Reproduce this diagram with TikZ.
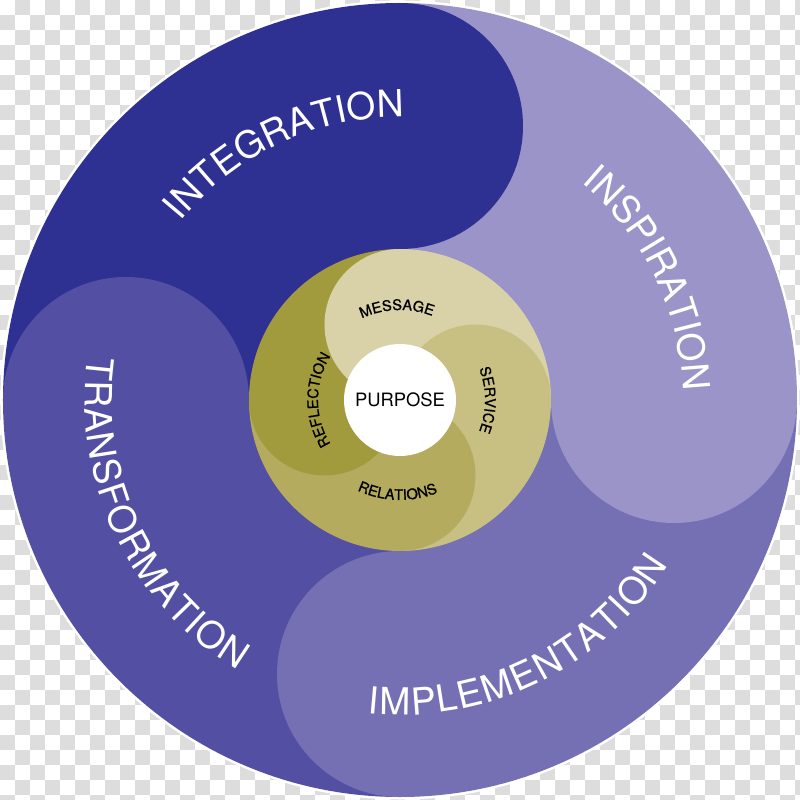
\documentclass[tikz,border=0pt]{standalone}
\usepackage{fontspec}
\setmainfont{TeX Gyre Heros}
\newfontfamily\innerfam{TeX Gyre Heros}[FakeBold=0.8]
\usetikzlibrary{decorations.text}
\definecolor{integ}{RGB}{46,48,146}
\definecolor{transf}{RGB}{83,80,163}
\definecolor{impl}{RGB}{116,112,179}
\definecolor{inspi}{RGB}{154,148,200}
\definecolor{msg}{RGB}{217,210,168}
\definecolor{serv}{RGB}{200,191,130}
\definecolor{rela}{RGB}{180,171,94}
\definecolor{refl}{RGB}{162,155,62}
\definecolor{checker}{RGB}{221,221,221}
\newcommand\outerfont{\fontsize{28}{30}\selectfont}
\newcommand\innerfont{\innerfam\fontsize{11}{12}\selectfont}
\tikzset{
  labelpath/.style={decorate}
}
\begin{document}
\begin{tikzpicture}[x=0.75pt,y=0.75pt]
\useasboundingbox (-400,-400) rectangle (400,400);
% transparent-background checkerboard
\begin{scope}
\clip (-400,-400) rectangle (400,400);
\fill[white] (-400,-400) rectangle (400,400);
\foreach \i in {0,...,53}{\foreach \j in {0,...,53}{%
  \pgfmathtruncatemacro\m{mod(\i+\j,2)}%
  \ifnum\m=1 \fill[checker] ({15*\i-400},{400-15*\j}) rectangle ++(15,-15);\fi}}
\end{scope}
\coordinate (O) at (0,0);
% outer ring
\fill[white] (O) circle[radius=399.5];
\fill[integ]  (O) -- (90:397)  arc[start angle=90, end angle=180,radius=397] -- cycle;
\fill[inspi]  (O) -- (0:397)   arc[start angle=0,  end angle=90, radius=397] -- cycle;
\fill[impl]   (O) -- (-90:397) arc[start angle=-90,end angle=0,  radius=397] -- cycle;
\fill[transf] (O) -- (180:397) arc[start angle=180,end angle=270,radius=397] -- cycle;
\coordinate (cI) at (0,274);
\coordinate (cS) at (274,0);
\coordinate (cM) at (0,-274);
\coordinate (cT) at (-274,0);
\fill[integ]  (cI) circle[radius=123];
\fill[inspi]  (cS) circle[radius=123];
\fill[impl]   (cM) circle[radius=123];
\fill[transf] (cT) circle[radius=123];
% inner ring
\fill[msg]  (O) -- (0:151)   arc[start angle=0,  end angle=90, radius=151] -- cycle;
\fill[serv] (O) -- (-90:151) arc[start angle=-90,end angle=0,  radius=151] -- cycle;
\fill[rela] (O) -- (180:151) arc[start angle=180,end angle=270,radius=151] -- cycle;
\fill[refl] (O) -- (90:151)  arc[start angle=90, end angle=180,radius=151] -- cycle;
\fill[msg]  (0,151)  arc[start angle=90, end angle=270,radius=75.5] -- cycle;
\fill[serv] (151,0)  arc[start angle=0,  end angle=180,radius=75.5] -- cycle;
\fill[rela] (0,-151) arc[start angle=-90,end angle=90, radius=75.5] -- cycle;
\fill[refl] (-151,0) arc[start angle=180,end angle=360,radius=75.5] -- cycle;
% centre
\fill[white] (O) circle[radius=56];
\node[font=\fontsize{13.8}{15}\selectfont, inner sep=0pt] (purpose) at (O) {PURPOSE};
% outer labels
\path[labelpath, decoration={text along path, text align=center, text color=white,
  text={|\outerfont|INTEGRATION}}] (155:283) arc[start angle=155,end angle=75,radius=283];
\path[labelpath, decoration={text along path, text align=center, text color=white,
  text={|\outerfont|INSPIRATION}}] (66:283) arc[start angle=66,end angle=-14,radius=283];
\path[labelpath, decoration={text along path, text align=fit to path, text color=white,
  text={|\outerfont|IMPLEMENTATION}}] (-96:315) arc[start angle=-96,end angle=-31.5,radius=315];
\path[labelpath, decoration={text along path, text align=fit to path, text color=white,
  text={|\outerfont|TRANSFORMATION}}] (172:315) arc[start angle=172,end angle=239,radius=315];
% inner labels
\path[labelpath, decoration={text along path, text align=center, text color=black,
  text={|\innerfont|MESSAGE}}] (132:90) arc[start angle=132,end angle=52,radius=90];
\path[labelpath, decoration={text along path, text align=center, text color=black,
  text={|\innerfont|SERVICE}}] (40:85) arc[start angle=40,end angle=-40,radius=85];
\path[labelpath, decoration={text along path, text align=center, text color=black,
  text={|\innerfont|REFLECTION}}] (230:82) arc[start angle=230,end angle=130,radius=82];
\path[labelpath, decoration={text along path, text align=center, text color=black,
  text={|\innerfont|RELATIONS}}] (-131.5:100) arc[start angle=-131.5,end angle=-51.5,radius=100];
\end{tikzpicture}
\end{document}
